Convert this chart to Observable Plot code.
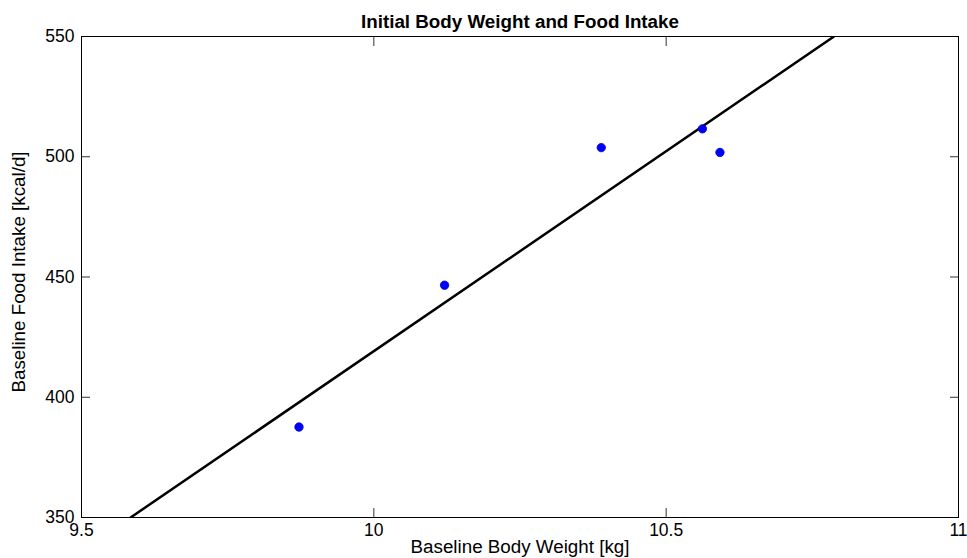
<!DOCTYPE html>
<html><head><meta charset="utf-8">
<script src="https://cdn.jsdelivr.net/npm/d3@7"></script>
<script src="https://cdn.jsdelivr.net/npm/@observablehq/plot@0.6"></script>
<style>body{margin:0;background:#fff;}</style>
</head><body><div id="chart"></div>
<script>
// Data
const weight = [9.872, 10.121, 10.389, 10.562, 10.592];  // kg
const intake = [387.6, 446.6, 503.8, 511.6, 501.8];      // kcal/d
const fitX = [9.584, 10.787];                            // regression line ends
const fitY = [350, 550];
const xTicks = [9.5, 10, 10.5, 11];
const yTicks = [350, 400, 450, 500, 550];
const title = "Initial Body Weight and Food Intake";
const xLabel = "Baseline Body Weight [kg]";
const yLabel = "Baseline Food Intake [kcal/d]";

const points = weight.map((w, i) => ({w, f: intake[i]}));
const fit = fitX.map((x, i) => ({x, y: fitY[i]}));
const fmt = d => String(d);

const chart = Plot.plot({
  width: 967, height: 558,
  marginLeft: 81, marginRight: 9, marginTop: 36, marginBottom: 41,
  style: {fontFamily: "'Liberation Sans', Arial, Helvetica, sans-serif", fontSize: "17.5px", color: "#000", background: "#fff", overflow: "visible"},
  x: {domain: [9.5, 11]},
  y: {domain: [350, 550]},
  marks: [
    Plot.axisX({anchor: "bottom", ticks: xTicks, tickSize: 0, tickPadding: 6, tickFormat: fmt, label: null}),
    Plot.axisY({anchor: "left", ticks: yTicks, tickSize: 0, tickPadding: 7, tickFormat: fmt, label: null}),
    Plot.axisX({anchor: "bottom", ticks: xTicks, tickSize: -9, text: null, label: null, stroke: "#333"}),
    Plot.axisX({anchor: "top", ticks: xTicks, tickSize: -9, text: null, label: null, stroke: "#333"}),
    Plot.axisY({anchor: "left", ticks: yTicks, tickSize: -9, text: null, label: null, stroke: "#333"}),
    Plot.axisY({anchor: "right", ticks: yTicks, tickSize: -9, text: null, label: null, stroke: "#333"}),
    Plot.frame({stroke: "#000", strokeWidth: 1}),
    Plot.line(fit, {x: "x", y: "y", stroke: "#000", strokeWidth: 2.5, clip: true}),
    Plot.dot(points, {x: "w", y: "f", r: 4.2, fill: "#0000ff", stroke: "#0000c8", strokeWidth: 0.8}),
    Plot.text([title], {text: d => d, frameAnchor: "top", lineAnchor: "middle", dy: -14.5, fontWeight: "bold", fontSize: 18.8}),
    Plot.text([xLabel], {text: d => d, frameAnchor: "bottom", lineAnchor: "middle", dy: 29.5, fontSize: 18.8}),
    Plot.text([yLabel], {text: d => d, frameAnchor: "left", textAnchor: "middle", lineAnchor: "middle", rotate: -90, dx: -63, dy: -5, fontSize: 18.8})
  ]
});
document.getElementById("chart").appendChild(chart);
</script>
</body></html>
